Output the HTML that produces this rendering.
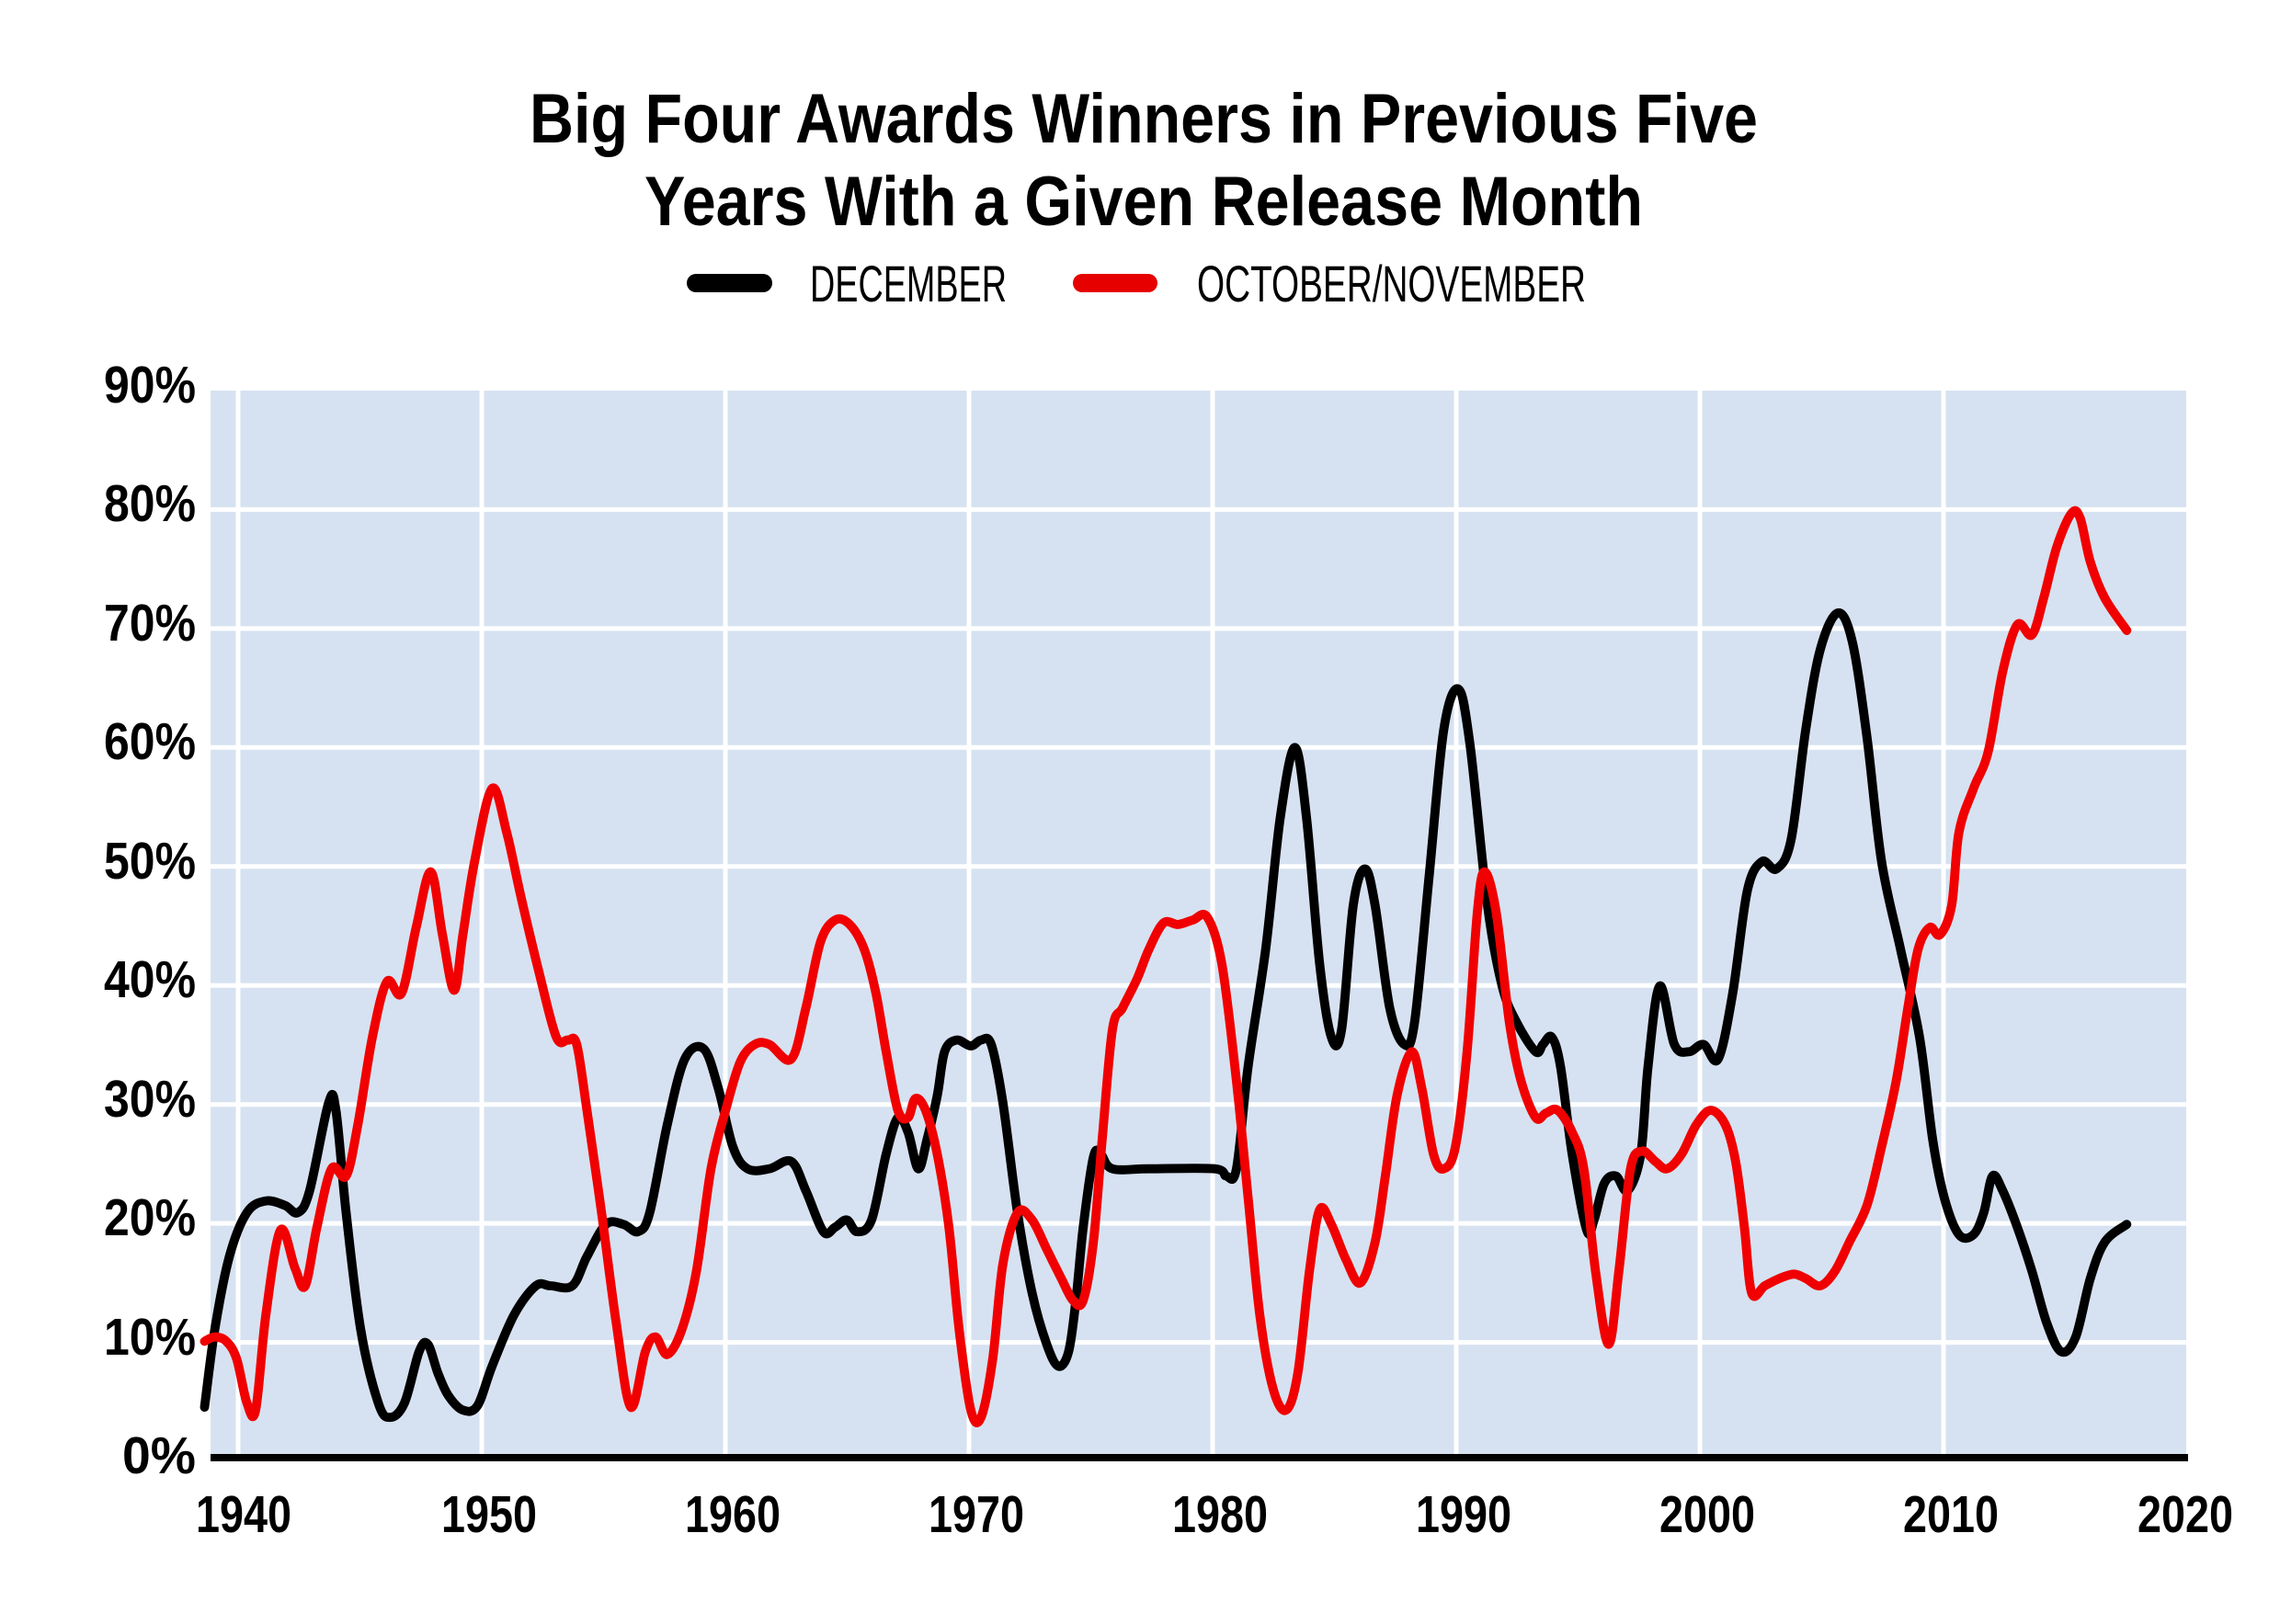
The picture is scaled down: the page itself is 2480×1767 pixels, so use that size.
<!DOCTYPE html>
<html><head><meta charset="utf-8"><style>
html,body{margin:0;padding:0;background:#fff;}
svg{display:block;}
text{font-family:"Liberation Sans Narrow","Liberation Sans",sans-serif;}
</style></head><body>
<svg width="2480" height="1767" viewBox="0 0 2480 1767" xmlns="http://www.w3.org/2000/svg">
<rect width="2480" height="1767" fill="#fff"/>
<text x="1244" y="155" font-size="76" font-weight="bold" text-anchor="middle" textLength="1336" lengthAdjust="spacingAndGlyphs">Big Four Awards Winners in Previous Five</text>
<text x="1244" y="245" font-size="76" font-weight="bold" text-anchor="middle" textLength="1086" lengthAdjust="spacingAndGlyphs">Years With a Given Release Month</text>
<line x1="757" y1="308" x2="830" y2="308" stroke="#000" stroke-width="20" stroke-linecap="round"/>
<text x="881" y="328" font-size="56" textLength="214" lengthAdjust="spacingAndGlyphs">DECEMBER</text>
<line x1="1177" y1="308" x2="1249" y2="308" stroke="#e60000" stroke-width="20" stroke-linecap="round"/>
<text x="1302" y="328" font-size="56" textLength="423" lengthAdjust="spacingAndGlyphs">OCTOBER/NOVEMBER</text>
<rect x="229" y="425" width="2149" height="1162" fill="#d6e2f1"/>
<g stroke="#fff" stroke-width="5">
<line x1="229" x2="2378" y1="554.4" y2="554.4"/><line x1="229" x2="2378" y1="683.9" y2="683.9"/>
<line x1="229" x2="2378" y1="813.3" y2="813.3"/><line x1="229" x2="2378" y1="942.8" y2="942.8"/>
<line x1="229" x2="2378" y1="1072.2" y2="1072.2"/><line x1="229" x2="2378" y1="1201.7" y2="1201.7"/>
<line x1="229" x2="2378" y1="1331.1" y2="1331.1"/><line x1="229" x2="2378" y1="1460.6" y2="1460.6"/>
<line y1="425" y2="1587" x1="259" x2="259"/><line y1="425" y2="1587" x1="524" x2="524"/>
<line y1="425" y2="1587" x1="789" x2="789"/><line y1="425" y2="1587" x1="1054" x2="1054"/>
<line y1="425" y2="1587" x1="1319" x2="1319"/><line y1="425" y2="1587" x1="1584" x2="1584"/>
<line y1="425" y2="1587" x1="1849" x2="1849"/><line y1="425" y2="1587" x1="2114" x2="2114"/>
</g>
<g transform="matrix(1.5876 0 0 1.5915 -4.54 -1.52)" fill="none" stroke-width="6.2" stroke-linejoin="round" stroke-linecap="round">
<path id="blk" stroke="#000"/>
<path id="red" stroke="#f00000"/>
</g>
<rect x="229" y="1582" width="2151" height="8" fill="#000"/>
<g font-size="57" font-weight="bold" text-anchor="end">
<text x="213" y="438" textLength="100" lengthAdjust="spacingAndGlyphs">90%</text>
<text x="213" y="567" textLength="100" lengthAdjust="spacingAndGlyphs">80%</text>
<text x="213" y="697" textLength="100" lengthAdjust="spacingAndGlyphs">70%</text>
<text x="213" y="826" textLength="100" lengthAdjust="spacingAndGlyphs">60%</text>
<text x="213" y="956" textLength="100" lengthAdjust="spacingAndGlyphs">50%</text>
<text x="213" y="1085" textLength="100" lengthAdjust="spacingAndGlyphs">40%</text>
<text x="213" y="1215" textLength="100" lengthAdjust="spacingAndGlyphs">30%</text>
<text x="213" y="1344" textLength="100" lengthAdjust="spacingAndGlyphs">20%</text>
<text x="213" y="1474" textLength="100" lengthAdjust="spacingAndGlyphs">10%</text>
<text x="213" y="1603" textLength="80" lengthAdjust="spacingAndGlyphs">0%</text>
</g>
<g font-size="57" font-weight="bold" text-anchor="middle">
<text x="265" y="1667" textLength="104" lengthAdjust="spacingAndGlyphs">1940</text>
<text x="532" y="1667" textLength="104" lengthAdjust="spacingAndGlyphs">1950</text>
<text x="797" y="1667" textLength="104" lengthAdjust="spacingAndGlyphs">1960</text>
<text x="1062" y="1667" textLength="104" lengthAdjust="spacingAndGlyphs">1970</text>
<text x="1327" y="1667" textLength="104" lengthAdjust="spacingAndGlyphs">1980</text>
<text x="1592" y="1667" textLength="104" lengthAdjust="spacingAndGlyphs">1990</text>
<text x="1857" y="1667" textLength="104" lengthAdjust="spacingAndGlyphs">2000</text>
<text x="2122" y="1667" textLength="104" lengthAdjust="spacingAndGlyphs">2010</text>
<text x="2377" y="1667" textLength="104" lengthAdjust="spacingAndGlyphs">2020</text>
</g>
</svg>
<script>
var B=[143,963,150,910,160,860,172,830,185,822,198,825,207,830,215,815,228,755,233,760,240,830,250,910,262,960,270,970,280,960,290,925,296,920,303,940,310,955,320,965,330,962,340,935,355,900,370,880,380,880,395,880,405,860,418,838,430,838,440,843,448,830,460,770,472,725,485,718,495,745,505,785,515,800,530,800,545,795,555,815,567,843,575,840,583,835,590,843,600,835,610,790,618,765,625,775,632,800,638,780,645,750,650,720,658,712,668,716,675,712,682,715,690,755,700,830,710,885,720,920,728,935,735,925,740,890,745,840,752,792,757,790,765,800,790,800,835,800,843,805,850,800,858,730,870,650,880,560,890,512,898,560,907,660,915,710,922,705,930,620,938,595,945,620,955,690,965,715,972,700,982,600,992,500,1002,472,1010,510,1022,620,1032,675,1042,700,1055,720,1060,715,1066,710,1072,730,1080,790,1090,842,1095,835,1102,810,1110,805,1118,815,1127,790,1132,730,1140,675,1150,715,1160,720,1170,715,1180,725,1190,680,1200,610,1210,590,1220,595,1230,575,1240,500,1250,445,1262,420,1272,440,1282,505,1292,590,1305,650,1318,710,1327,780,1335,820,1345,845,1355,845,1362,830,1368,805,1375,815,1385,840,1395,870,1405,905,1415,925,1425,915,1435,875,1445,850,1460,838];
var R=[143,918,150,915,158,918,165,930,172,960,178,965,185,900,195,842,205,868,212,880,220,840,230,800,240,805,248,770,258,710,268,672,278,680,288,635,298,597,306,640,314,678,320,640,328,590,340,540,350,570,360,615,372,665,384,710,392,712,398,715,405,760,415,830,425,905,435,963,445,925,452,915,460,927,470,910,480,870,490,800,500,760,510,727,520,715,530,715,545,725,555,690,565,645,575,630,585,633,595,650,603,680,610,720,618,760,625,765,630,752,637,760,645,790,653,840,660,910,668,965,675,970,683,930,690,865,700,830,710,835,720,855,730,875,738,890,745,890,752,850,758,780,765,705,772,690,782,670,790,650,800,632,810,633,820,630,830,628,840,660,850,740,858,820,866,900,875,950,884,965,892,940,900,870,907,828,915,838,925,862,935,878,945,850,952,805,960,750,970,720,977,745,985,790,992,800,1000,785,1008,720,1015,625,1020,597,1028,625,1037,700,1045,740,1055,765,1062,762,1070,760,1080,775,1088,800,1096,870,1105,920,1112,870,1120,800,1128,788,1137,795,1145,800,1155,790,1165,770,1175,760,1185,770,1192,795,1198,840,1203,885,1212,880,1222,875,1232,872,1240,875,1250,880,1260,870,1270,850,1282,825,1292,785,1302,740,1310,690,1317,650,1325,635,1332,640,1340,620,1345,570,1355,540,1365,515,1375,460,1385,428,1395,435,1403,410,1412,375,1422,352,1428,355,1435,385,1445,410,1460,432];
function cr(a){var p=[];for(var i=0;i<a.length;i+=2)p.push([a[i],a[i+1]]);var d="M"+p[0][0]+","+p[0][1];
for(var i=0;i<p.length-1;i++){var p0=p[i>0?i-1:i],p1=p[i],p2=p[i+1],p3=p[i+2<p.length?i+2:i+1];
var c1x=p1[0]+(p2[0]-p0[0])/6,c1y=p1[1]+(p2[1]-p0[1])/6,c2x=p2[0]-(p3[0]-p1[0])/6,c2y=p2[1]-(p3[1]-p1[1])/6;
d+=" C"+c1x.toFixed(2)+","+c1y.toFixed(2)+" "+c2x.toFixed(2)+","+c2y.toFixed(2)+" "+p2[0]+","+p2[1];}return d;}
document.getElementById("blk").setAttribute("d",cr(B));
document.getElementById("red").setAttribute("d",cr(R));
</script>
</body></html>
